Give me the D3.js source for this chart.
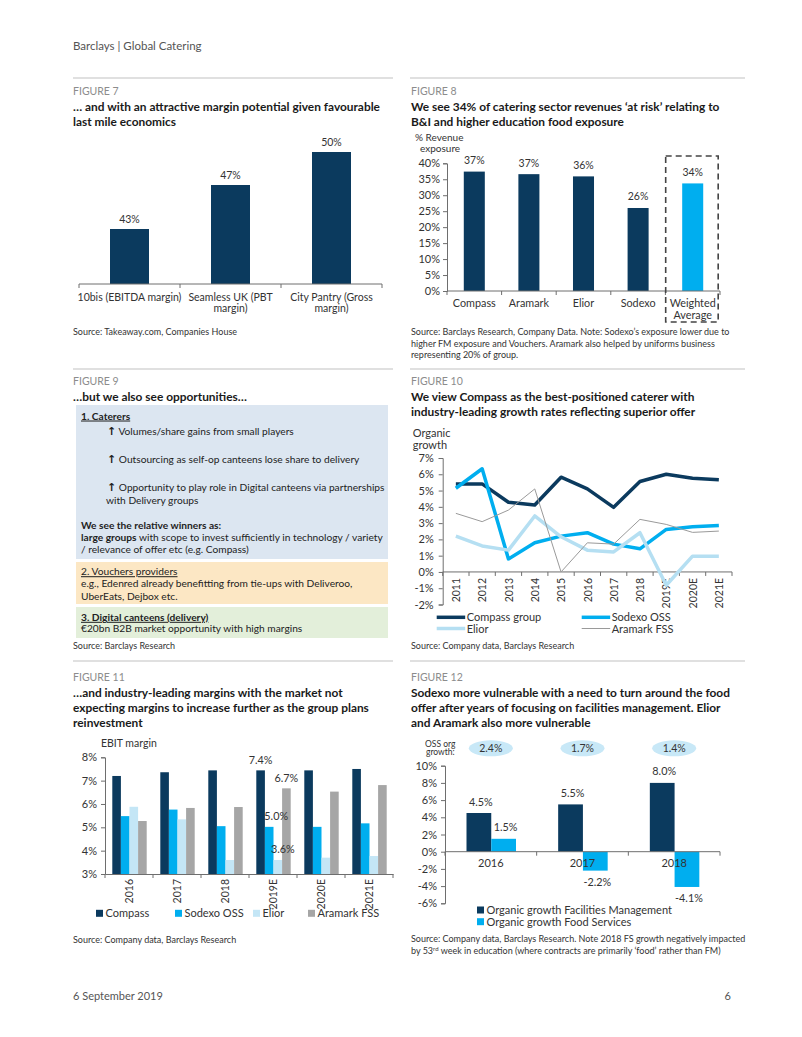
<!DOCTYPE html>
<html><head><meta charset="utf-8">
<script src="https://cdn.jsdelivr.net/npm/d3@7"></script>
<style>
html,body{margin:0;padding:0;background:#fff;overflow:hidden;}
svg{display:block;font-family:Lato,"Noto Sans",sans-serif;}
</style></head><body>
<svg id="page" width="802" height="1037"></svg>
<script>
// ---------------- DATA ----------------
const fig7Categories = ["10bis (EBITDA margin)", "Seamless UK (PBT\nmargin)", "City Pantry (Gross\nmargin)"];
const fig7Values = [43, 47, 50];

const fig8Categories = ["Compass", "Aramark", "Elior", "Sodexo", "Weighted\nAverage"];
const fig8Values = [37.4, 36.6, 35.9, 26.0, 33.7];
const fig8Ticks = [0, 5, 10, 15, 20, 25, 30, 35, 40];

const fig10Years = ["2011","2012","2013","2014","2015","2016","2017","2018","2019E","2020E","2021E"];
const fig10Compass = [5.41, 5.41, 4.28, 4.11, 5.82, 5.10, 3.97, 5.56, 6.00, 5.76, 5.66];
const fig10Sodexo  = [5.14, 6.34, 0.80, 1.79, 2.20, 2.41, 1.71, 1.42, 2.61, 2.78, 2.86];
const fig10Elior   = [2.20, 1.60, 1.34, 3.44, 2.16, 1.34, 1.23, 2.41, -0.82, 0.97, 0.97];
const fig10Aramark = [3.60, 3.09, 3.80, 5.10, 0.00, 1.79, 1.71, 3.23, 2.92, 2.43, 2.51];
const fig10Ticks = [-2, -1, 0, 1, 2, 3, 4, 5, 6, 7];
const fig10Legend = ["Compass group", "Sodexo OSS", "Elior", "Aramark FSS"];

const fig11Years = ["2016","2017","2018","2019E","2020E","2021E"];
const fig11Series = ["Compass", "Sodexo OSS", "Elior", "Aramark FSS"];
const fig11Compass = [7.20, 7.36, 7.44, 7.44, 7.44, 7.50];
const fig11Sodexo  = [5.48, 5.76, 5.05, 5.02, 5.02, 5.17];
const fig11Elior   = [5.88, 5.34, 3.60, 3.60, 3.70, 3.77];
const fig11Aramark = [5.27, 5.83, 5.87, 6.67, 6.53, 6.81];
const fig11Ticks = [3, 4, 5, 6, 7, 8];
const fig11LabelYear = "2019E";

const fig12Years = ["2016", "2017", "2018"];
const fig12Series = ["Organic growth Facilities Management", "Organic growth Food Services"];
const fig12FM = [4.5, 5.5, 8.0];
const fig12FS = [1.5, -2.2, -4.1];
const fig12OSS = [2.4, 1.7, 1.4];
const fig12Ticks = [-6, -4, -2, 0, 2, 4, 6, 8, 10];

// ---------------- STYLE ----------------
const NAVY = "#0b3a5e", CYAN = "#00aeef", LIGHT = "#c4e6f6", GRAY = "#a6a6a6";
const AXIS = "#6e6e6e", TXT = "#333333";
const FONT = 'Lato,"Noto Sans",sans-serif';

const svg = d3.select("#page");
svg.append("rect").attr("width", 802).attr("height", 1037).attr("fill", "#fff");

function t(g, x, y, s, o = {}) {
  return g.append("text").attr("x", x).attr("y", y).text(s)
    .attr("font-size", o.size || 10.5)
    .attr("font-weight", o.weight || 400)
    .attr("fill", o.fill || TXT)
    .attr("text-anchor", o.anchor || "start");
}
function styleAxis(a, size) {
  a.attr("font-family", FONT).attr("font-size", size || 10.5);
  a.select(".domain").attr("stroke", AXIS);
  a.selectAll(".tick line").attr("stroke", AXIS);
  a.selectAll(".tick text").attr("fill", TXT);
}
function boundaryTicks(g, x, y, xs) {
  g.selectAll(null).data(xs).join("line")
    .attr("x1", d => d).attr("x2", d => d).attr("y1", y).attr("y2", y + 4)
    .attr("stroke", AXIS);
}
const pct0 = d3.format(".0%");
const pct1 = d3.format(".1%");

// ---------------- PAGE FRAME ----------------
t(svg, 73, 50, "Barclays | Global Catering", {size: 11.5, fill: "#555"});
[78, 369, 661].forEach(y => {
  svg.append("line").attr("x1", 73).attr("x2", 393).attr("y1", y).attr("y2", y).attr("stroke", "#d6d6d6").attr("stroke-width", 1.5);
  svg.append("line").attr("x1", 410).attr("x2", 745).attr("y1", y).attr("y2", y).attr("stroke", "#d6d6d6").attr("stroke-width", 1.5);
});
t(svg, 73, 1000, "6 September 2019", {size: 11, fill: "#555"});
t(svg, 731, 1000, "6", {size: 11, fill: "#555", anchor: "end"});

function figHead(x, y, label, lines) {
  t(svg, x, y, label, {size: 10.5, fill: "#8c8c8c"});
  lines.forEach((l, i) => t(svg, x, y + 16.3 + i * 15, l, {size: 11.9, weight: 700, fill: "#1a1a1a"}));
}
figHead(73, 95, "FIGURE 7", ["… and with an attractive margin potential given favourable", "last mile economics"]);
figHead(411, 95, "FIGURE 8", ["We see 34% of catering sector revenues ‘at risk’ relating to", "B&I and higher education food exposure"]);
figHead(73, 384.5, "FIGURE 9", ["…but we also see opportunities…"]);
figHead(411, 384.5, "FIGURE 10", ["We view Compass as the best-positioned caterer with", "industry-leading growth rates reflecting superior offer"]);
figHead(73, 681, "FIGURE 11", ["…and industry-leading margins with the market not", "expecting margins to increase further as the group plans", "reinvestment"]);
figHead(411, 681, "FIGURE 12", ["Sodexo more vulnerable with a need to turn around the food", "offer after years of focusing on facilities management. Elior", "and Aramark also more vulnerable"]);

// ---------------- FIGURE 7 ----------------
{
  const g = svg.append("g");
  const x = d3.scaleBand().domain(fig7Categories).range([79, 382]).paddingInner(0.614).paddingOuter(0.307);
  const y = d3.scaleLinear().domain([38, 52]).range([284, 130]);
  g.selectAll("rect").data(fig7Values).join("rect")
    .attr("x", (d, i) => x(fig7Categories[i])).attr("y", d => y(d))
    .attr("width", x.bandwidth()).attr("height", d => y(38) - y(d)).attr("fill", NAVY);
  fig7Values.forEach((v, i) => t(g, x(fig7Categories[i]) + x.bandwidth() / 2, y(v) - 6.5, pct0(v / 100), {anchor: "middle", size: 10.5}));
  g.append("line").attr("x1", 79).attr("x2", 382).attr("y1", 284).attr("y2", 284).attr("stroke", AXIS);
  const b = fig7Categories.map(c => x(c) - x.step() * x.paddingInner() / 2).concat([382]);
  boundaryTicks(g, x, 284, b);
  fig7Categories.forEach(c => c.split("\n").forEach((l, j) =>
    t(g, x(c) + x.bandwidth() / 2, 300.5 + j * 11.3, l, {anchor: "middle", size: 10.5})));
  t(g, 73, 335, "Source: Takeaway.com, Companies House", {size: 9});
}

// ---------------- FIGURE 8 ----------------
{
  const g = svg.append("g");
  const x = d3.scaleBand().domain(fig8Categories).range([447, 720]).paddingInner(0.615).paddingOuter(0.3075);
  const y = d3.scaleLinear().domain([0, 40]).range([291, 163.3]);
  const ax = g.append("g").attr("transform", "translate(447,0)")
    .call(d3.axisLeft(y).tickValues(fig8Ticks).tickFormat(d => d + "%").tickSize(4).tickPadding(3));
  styleAxis(ax, 11);
  g.selectAll("rect").data(fig8Values).join("rect")
    .attr("x", (d, i) => x(fig8Categories[i])).attr("y", d => y(d))
    .attr("width", x.bandwidth()).attr("height", d => y(0) - y(d))
    .attr("fill", (d, i) => i === fig8Categories.length - 1 ? CYAN : NAVY);
  fig8Values.forEach((v, i) => t(g, x(fig8Categories[i]) + x.bandwidth() / 2, y(v) - 7.5, pct0(Math.round(v) / 100), {anchor: "middle", size: 10.5}));
  g.append("line").attr("x1", 447).attr("x2", 720).attr("y1", y(0)).attr("y2", y(0)).attr("stroke", AXIS);
  const b = fig8Categories.map(c => x(c) - x.step() * x.paddingInner() / 2).concat([720]);
  boundaryTicks(g, x, y(0), b);
  fig8Categories.forEach(c => c.split("\n").forEach((l, j) =>
    t(g, x(c) + x.bandwidth() / 2, 307 + j * 12, l, {anchor: "middle", size: 10.8})));
  const last = fig8Categories[fig8Categories.length - 1];
  g.append("rect").attr("x", x(last) - 16.5).attr("y", 156).attr("width", 52.5).attr("height", 166)
    .attr("fill", "none").attr("stroke", "#444").attr("stroke-width", 1.6).attr("stroke-dasharray", "6,4");
  t(g, 415, 140.5, "% Revenue", {size: 10});
  t(g, 420, 151.5, "exposure", {size: 10});
  ["Source: Barclays Research, Company Data. Note: Sodexo’s exposure lower due to",
   "higher FM exposure and Vouchers. Aramark also helped by uniforms business",
   "representing 20% of group."].forEach((l, i) => t(g, 411, 335 + i * 11.5, l, {size: 9}));
}

// ---------------- FIGURE 9 ----------------
{
  const g = svg.append("g");
  g.append("rect").attr("x", 76).attr("y", 405).attr("width", 312).attr("height", 154).attr("fill", "#dce6f1");
  g.append("rect").attr("x", 76).attr("y", 562).attr("width", 312).attr("height", 42).attr("fill", "#fce7c4");
  g.append("rect").attr("x", 76).attr("y", 607).attr("width", 312).attr("height", 31).attr("fill", "#e3efda");
  const fs = 10.2;
  t(g, 81, 419.5, "1. Caterers", {size: fs, weight: 700, fill: "#222"}).attr("text-decoration", "underline");
  const arrows = [["Volumes/share gains from small players", 434.5],
                  ["Outsourcing as self-op canteens lose share to delivery", 462.8],
                  ["Opportunity to play role in Digital canteens via partnerships", 490.8]];
  arrows.forEach(([s, yy]) => {
    const tx = t(g, 107, yy, "", {size: fs, fill: "#222"});
    tx.append("tspan").attr("font-family", "DejaVu Sans").attr("font-weight", 700).attr("font-size", 11).text("↑");
    tx.append("tspan").text(" " + s);
  });
  t(g, 106, 503.5, "with Delivery groups", {size: fs, fill: "#222"});
  t(g, 81, 528.5, "We see the relative winners as:", {size: fs, weight: 700, fill: "#222"});
  const l2 = t(g, 81, 540.5, "", {size: fs, fill: "#222"});
  l2.append("tspan").attr("font-weight", 700).text("large groups");
  l2.append("tspan").text(" with scope to invest sufficiently in technology / variety");
  t(g, 81, 553, "/ relevance of offer etc (e.g. Compass)", {size: fs, fill: "#222"});
  t(g, 81, 575.2, "2. Vouchers providers", {size: fs, fill: "#222"}).attr("text-decoration", "underline");
  t(g, 81, 587, "e.g., Edenred already benefitting from tie-ups with Deliveroo,", {size: fs, fill: "#222"});
  t(g, 81, 599.5, "UberEats, Dejbox etc.", {size: fs, fill: "#222"});
  t(g, 81, 620.8, "3. Digital canteens (delivery)", {size: fs, weight: 700, fill: "#222"}).attr("text-decoration", "underline");
  t(g, 81, 632, "€20bn B2B market opportunity with high margins", {size: fs, fill: "#222"});
  t(g, 73, 648.5, "Source: Barclays Research", {size: 9});
}

// ---------------- FIGURE 10 ----------------
{
  const g = svg.append("g");
  const x = d3.scalePoint().domain(fig10Years).range([442.7, 732]).padding(0.5);
  const y = d3.scaleLinear().domain([-2, 7]).range([604.5, 458]);
  const ay = g.append("g").attr("transform", "translate(442.7,0)")
    .call(d3.axisLeft(y).tickValues(fig10Ticks).tickFormat(d => d + "%").tickSize(4).tickPadding(5));
  styleAxis(ay, 11);
  const ax = g.append("g").attr("transform", `translate(0,${y(0)})`)
    .call(d3.axisBottom(x).tickSize(0).tickSizeOuter(0));
  styleAxis(ax, 10.5);
  ax.select(".domain").attr("d", `M442.7,0H732`);
  ax.selectAll(".tick text").attr("transform", "rotate(-90)").attr("text-anchor", "end")
    .attr("x", -6).attr("y", 0).attr("dy", "0.35em");
  boundaryTicks(g, x, y(0), d3.range(fig10Years.length + 1).map(i => 442.7 + i * x.step()));
  const series = [
    {v: fig10Compass, c: NAVY, w: 3.5},
    {v: fig10Sodexo, c: CYAN, w: 3.5},
    {v: fig10Elior, c: "#b5dff2", w: 3.5},
    {v: fig10Aramark, c: "#9a9a9a", w: 1}
  ];
  const line = d3.line().x((d, i) => x(fig10Years[i])).y(d => y(d));
  g.selectAll("path.s").data(series).join("path").attr("class", "s")
    .attr("d", d => line(d.v)).attr("fill", "none").attr("stroke", d => d.c)
    .attr("stroke-width", d => d.w).attr("stroke-linejoin", "round");
  const lpos = [[436.7, 617.3], [581.7, 617.3], [436.7, 628.5], [581.7, 628.5]];
  series.forEach((s, i) => {
    g.append("line").attr("x1", lpos[i][0]).attr("x2", lpos[i][0] + 28.5).attr("y1", lpos[i][1]).attr("y2", lpos[i][1])
      .attr("stroke", s.c).attr("stroke-width", s.w);
    t(g, lpos[i][0] + 30, lpos[i][1] + 4, fig10Legend[i], {size: 11});
  });
  t(g, 412.7, 436.5, "Organic", {size: 11});
  t(g, 412.7, 449, "growth", {size: 11});
  t(g, 411, 648.5, "Source: Company data, Barclays Research", {size: 9});
}

// ---------------- FIGURE 11 ----------------
{
  const g = svg.append("g");
  const x0 = d3.scaleBand().domain(fig11Years).range([105, 393]);
  const x1 = d3.scaleBand().domain(fig11Series).range([7.3, 41.7]);
  const y = d3.scaleLinear().domain([3, 8]).range([874, 757.3]);
  const cols = [NAVY, CYAN, LIGHT, GRAY];
  const vals = [fig11Compass, fig11Sodexo, fig11Elior, fig11Aramark];
  const ay = g.append("g").attr("transform", "translate(105,0)")
    .call(d3.axisLeft(y).tickValues(fig11Ticks).tickFormat(d => d + "%").tickSize(4).tickPadding(4));
  styleAxis(ay, 11);
  const data = [];
  fig11Years.forEach((yr, i) => fig11Series.forEach((s, k) => data.push({yr, s, k, v: vals[k][i]})));
  g.selectAll("rect.b").data(data).join("rect").attr("class", "b")
    .attr("x", d => x0(d.yr) + x1(d.s)).attr("y", d => y(d.v))
    .attr("width", x1.bandwidth()).attr("height", d => y(3) - y(d.v)).attr("fill", d => cols[d.k]);
  const ax = g.append("g").attr("transform", "translate(0,874)")
    .call(d3.axisBottom(x0).tickSize(0).tickSizeOuter(0));
  styleAxis(ax, 10.5);
  ax.selectAll(".tick text").attr("transform", "rotate(-90)").attr("text-anchor", "end")
    .attr("x", -5).attr("y", 0).attr("dy", "0.35em");
  boundaryTicks(g, x0, 874, d3.range(fig11Years.length + 1).map(i => 105 + i * x0.step()));
  const dxs = [0, 7, 5, 0];
  data.filter(d => d.yr === fig11LabelYear).forEach(d =>
    t(g, x0(d.yr) + x1(d.s) + x1.bandwidth() / 2 + dxs[d.k], y(d.v) - 6.5, pct1(d.v / 100), {anchor: "middle", size: 10.8}));
  t(g, 101, 746.5, "EBIT margin", {size: 10.5});
  const lx = [96, 175, 253, 308];
  fig11Series.forEach((s, k) => {
    g.append("rect").attr("x", lx[k]).attr("y", 909.8).attr("width", 7).attr("height", 7).attr("fill", cols[k]);
    t(g, lx[k] + 9.5, 917.2, s, {size: 11});
  });
  t(g, 73, 943, "Source: Company data, Barclays Research", {size: 9});
}

// ---------------- FIGURE 12 ----------------
{
  const g = svg.append("g");
  const x0 = d3.scaleBand().domain(fig12Years).range([445, 720]);
  const x1 = d3.scaleBand().domain(fig12Series).range([21.5, 71]);
  const y = d3.scaleLinear().domain([-6, 10]).range([903.3, 765.7]);
  const cols = [NAVY, CYAN];
  const vals = [fig12FM, fig12FS];
  const ay = g.append("g").attr("transform", "translate(445,0)")
    .call(d3.axisLeft(y).tickValues(fig12Ticks).tickFormat(d => d + "%").tickSize(4).tickPadding(4));
  styleAxis(ay, 11);
  const data = [];
  fig12Years.forEach((yr, i) => fig12Series.forEach((s, k) => data.push({yr, s, k, v: vals[k][i]})));
  g.selectAll("rect.b").data(data).join("rect").attr("class", "b")
    .attr("x", d => x0(d.yr) + x1(d.s)).attr("y", d => y(Math.max(0, d.v)))
    .attr("width", x1.bandwidth()).attr("height", d => Math.abs(y(d.v) - y(0))).attr("fill", d => cols[d.k]);
  g.append("line").attr("x1", 445).attr("x2", 720).attr("y1", y(0)).attr("y2", y(0)).attr("stroke", AXIS);
  boundaryTicks(g, x0, y(0), d3.range(fig12Years.length + 1).map(i => 445 + i * x0.step()));
  fig12Years.forEach(yr => t(g, x0(yr) + x0.bandwidth() / 2, 867, yr, {anchor: "middle", size: 11}));
  data.forEach(d => t(g, x0(d.yr) + x1(d.s) + x1.bandwidth() / 2 + 2, d.v >= 0 ? y(d.v) - 7.5 : y(d.v) + 15,
    pct1(d.v / 100).replace("−", "-"), {anchor: "middle", size: 10.8}));
  fig12Years.forEach((yr, i) => {
    const cx = x0(yr) + x0.bandwidth() / 2;
    g.append("ellipse").attr("cx", cx).attr("cy", 748.3).attr("rx", 22).attr("ry", 8).attr("fill", "#c8e8f7");
    t(g, cx, 752, pct1(fig12OSS[i] / 100), {anchor: "middle", size: 10.5});
  });
  t(g, 425, 747, "OSS org", {size: 8.5});
  t(g, 426, 755, "growth:", {size: 8.5});
  fig12Series.forEach((s, k) => {
    g.append("rect").attr("x", 477).attr("y", 906.5 + k * 11.7).attr("width", 7).attr("height", 7).attr("fill", cols[k]);
    t(g, 486.5, 913.8 + k * 11.7, s, {size: 11});
  });
  t(g, 411, 942, "Source: Company data, Barclays Research. Note 2018 FS growth negatively impacted", {size: 9});
  const s2 = t(g, 411, 954, "by 53", {size: 9});
  s2.append("tspan").attr("font-size", 6).attr("dy", -3.5).text("rd");
  s2.append("tspan").attr("dy", 3.5).text(" week in education (where contracts are primarily ‘food’ rather than FM)");
}
</script>
</body></html>
